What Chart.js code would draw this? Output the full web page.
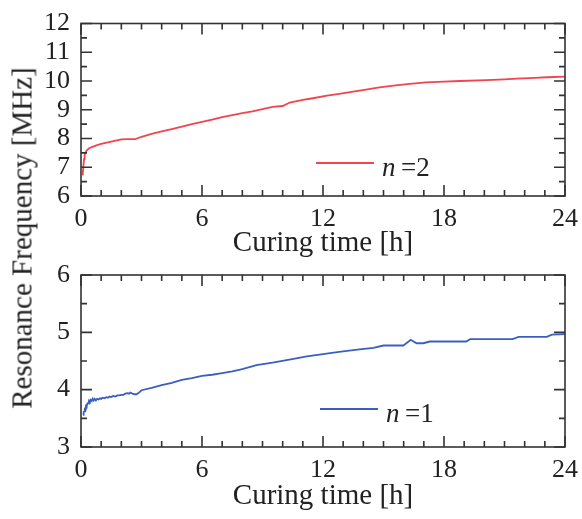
<!DOCTYPE html>
<html>
<head>
<meta charset="utf-8">
<script src="https://cdn.jsdelivr.net/npm/chart.js@4/dist/chart.umd.min.js"></script>
<style>
  html, body { margin: 0; padding: 0; background: #fff; }
  #wrap { position: relative; width: 582px; height: 519px; overflow: hidden; }
  canvas { position: absolute; left: 0; }
  #c1 { top: 0; }
  #c2 { top: 250px; }
  #ytitle {
    position: absolute; left: 22px; top: 238px;
    transform: translate(-50%, -50%) rotate(-90deg);
    font: 29px 'Liberation Serif', 'Times New Roman', serif;
    color: #222; white-space: nowrap;
  }
</style>
</head>
<body>
<div id="wrap">
  <canvas id="c1" width="582" height="270" style="width:582px;height:270px"></canvas>
  <canvas id="c2" width="582" height="269" style="width:582px;height:269px"></canvas>
  <div id="ytitle">Resonance Frequency [MHz]</div>
</div>
<script>
// Curing time axis (hours), shared by both panels
const xMajorTicks = [0, 6, 12, 18, 24];
const xTitle = 'Curing time [h]';

// Mode n = 2 (upper panel)
const hoursN2 = [0.08, 0.12, 0.15, 0.18, 0.22, 0.3, 0.4, 0.6, 0.8, 1.0, 1.5, 2.0, 2.3, 2.7, 3.0, 3.5,
  4.0, 4.5, 5.0, 5.5, 6.0, 6.5, 7.0, 7.5, 8.0, 8.5, 9.0, 9.5, 10.0, 10.35, 11.0, 11.5, 12.2, 12.8,
  13.5, 14.2, 14.8, 15.6, 16.3, 17.1, 18.0, 18.8, 20.1, 21.0, 21.6, 22.5, 23.1, 24.0];
const freqN2 = [6.72, 7.05, 7.28, 7.42, 7.52, 7.60, 7.66, 7.72, 7.77, 7.81, 7.89, 7.97, 7.98, 7.98, 8.06, 8.16,
  8.25, 8.33, 8.41, 8.50, 8.58, 8.66, 8.74, 8.81, 8.88, 8.94, 9.02, 9.10, 9.13, 9.25, 9.34, 9.40, 9.49, 9.55,
  9.63, 9.71, 9.78, 9.85, 9.90, 9.95, 9.98, 10.00, 10.03, 10.06, 10.08, 10.11, 10.13, 10.15];
const yTicksN2 = [6, 7, 8, 9, 10, 11, 12];

// Mode n = 1 (lower panel)
const hoursN1 = [0.10, 0.13, 0.16, 0.19, 0.22, 0.25, 0.28, 0.32, 0.36, 0.40, 0.44, 0.48, 0.53, 0.58, 0.63,
  0.68, 0.74, 0.80, 0.87, 0.94, 1.00, 1.08, 1.16, 1.25, 1.33, 1.42, 1.50, 1.60, 1.70, 1.80, 1.90, 2.00,
  2.10, 2.20, 2.30, 2.38, 2.45, 2.55, 2.65, 2.75, 2.85, 3.0, 3.5, 4.0, 4.5, 5.0, 5.5, 6.0, 6.5, 7.0, 7.5,
  8.0, 8.7, 9.5, 10.4, 11.2, 12.0, 12.8, 13.7, 14.5, 15.0, 15.98, 16.1, 16.35, 16.64, 16.97, 17.3, 19.1,
  19.3, 21.4, 21.7, 23.1, 23.35, 24.0];
const freqN1 = [3.56, 3.61, 3.62, 3.67, 3.67, 3.72, 3.71, 3.76, 3.76, 3.81, 3.79, 3.82, 3.80, 3.84, 3.81,
  3.84, 3.81, 3.84, 3.83, 3.85, 3.84, 3.86, 3.85, 3.87, 3.86, 3.88, 3.87, 3.89, 3.88, 3.90, 3.90, 3.91,
  3.91, 3.93, 3.94, 3.93, 3.95, 3.93, 3.92, 3.92, 3.94, 3.99, 4.03, 4.08, 4.12, 4.17, 4.20, 4.24, 4.26, 4.29, 4.32,
  4.36, 4.43, 4.47, 4.53, 4.58, 4.62, 4.66, 4.70, 4.73, 4.77, 4.77, 4.80, 4.87, 4.81, 4.81, 4.84, 4.84,
  4.88, 4.88, 4.92, 4.92, 4.96, 4.97];
const yTicksN1 = [3, 4, 5, 6];

const SERIF = "'Liberation Serif', 'Times New Roman', serif";
Chart.defaults.font.family = SERIF;
Chart.defaults.color = '#222';

// Boxed frame with inward major/minor ticks on all four sides, plus the in-plot legend
const framePlugin = {
  id: 'frame',
  afterDatasetsDraw(chart, args, opts) {
    const { ctx, chartArea: a, scales: { x, y } } = chart;
    ctx.save();
    ctx.strokeStyle = '#333';
    ctx.lineWidth = 1.6;
    ctx.beginPath();
    for (let t = x.min; t <= x.max + 1e-9; t += opts.xMinor) {
      const px = x.getPixelForValue(t);
      const len = Math.abs(t / opts.xMajor - Math.round(t / opts.xMajor)) < 1e-6 ? 11 : 6;
      ctx.moveTo(px, a.bottom); ctx.lineTo(px, a.bottom - len);
      ctx.moveTo(px, a.top); ctx.lineTo(px, a.top + len);
    }
    for (let v = y.min; v <= y.max + 1e-9; v += opts.yMinor) {
      const py = y.getPixelForValue(v);
      const len = Math.abs(v - Math.round(v)) < 1e-6 ? 11 : 6;
      ctx.moveTo(a.left, py); ctx.lineTo(a.left + len, py);
      ctx.moveTo(a.right, py); ctx.lineTo(a.right - len, py);
    }
    ctx.stroke();
    ctx.strokeRect(a.left, a.top, a.right - a.left, a.bottom - a.top);

    // legend entry: sample line, italic mode symbol, then "=k"
    const ds = chart.data.datasets[0];
    const lx = a.left + opts.legendDx, ly = a.bottom - opts.legendDy;
    ctx.strokeStyle = ds.borderColor;
    ctx.lineWidth = ds.borderWidth;
    ctx.beginPath();
    ctx.moveTo(lx, ly); ctx.lineTo(lx + 58, ly);
    ctx.stroke();
    const [sym, rest] = ds.label.split(' ');
    ctx.fillStyle = '#222';
    ctx.textBaseline = 'alphabetic';
    ctx.textAlign = 'left';
    ctx.font = 'italic 27px ' + SERIF;
    ctx.fillText(sym, lx + 66, ly + 13);
    ctx.font = '27px ' + SERIF;
    ctx.fillText(rest, lx + 85, ly + 13);
    ctx.restore();
  }
};

function makePanel(id, label, hours, freq, color, yTicks, pad, xAxisHeight, legend) {
  return new Chart(document.getElementById(id), {
    type: 'line',
    data: {
      datasets: [{
        label: label,
        data: hours.map((h, i) => ({ x: h, y: freq[i] })),
        borderColor: color,
        borderWidth: 1.8,
        pointRadius: 0,
        tension: 0,
        fill: false
      }]
    },
    options: {
      responsive: false,
      animation: false,
      events: [],
      layout: { padding: pad },
      plugins: {
        legend: { display: false },
        tooltip: { enabled: false },
        frame: { xMinor: 1, xMajor: 6, yMinor: 0.5, legendDx: legend[0], legendDy: legend[1] }
      },
      scales: {
        x: {
          type: 'linear',
          min: xMajorTicks[0],
          max: xMajorTicks[xMajorTicks.length - 1],
          afterBuildTicks: s => { s.ticks = xMajorTicks.map(v => ({ value: v })); },
          afterFit: s => { s.height = xAxisHeight; },
          grid: { display: false },
          border: { display: false },
          ticks: { autoSkip: false, maxRotation: 0, padding: 0, font: { size: 26 }, color: '#222' },
          title: { display: true, text: xTitle, font: { size: 29 }, color: '#222', padding: 0 }
        },
        y: {
          type: 'linear',
          min: yTicks[0],
          max: yTicks[yTicks.length - 1],
          afterBuildTicks: s => { s.ticks = yTicks.map(v => ({ value: v })); },
          afterFit: s => { s.width = 81; },
          grid: { display: false },
          border: { display: false },
          ticks: { autoSkip: false, padding: 3, font: { size: 26 }, color: '#222' }
        }
      }
    },
    plugins: [framePlugin]
  });
}

makePanel('c1', 'n =2', hoursN2, freqN2, '#f0444e', yTicksN2,
  { top: 23.5, right: 17, bottom: 9, left: 0 }, 65, [235, 33]);
makePanel('c2', 'n =1', hoursN1, freqN1, '#3b5fc0', yTicksN1,
  { top: 25, right: 17, bottom: 5, left: 0 }, 67, [239, 38]);
</script>
</body>
</html>
